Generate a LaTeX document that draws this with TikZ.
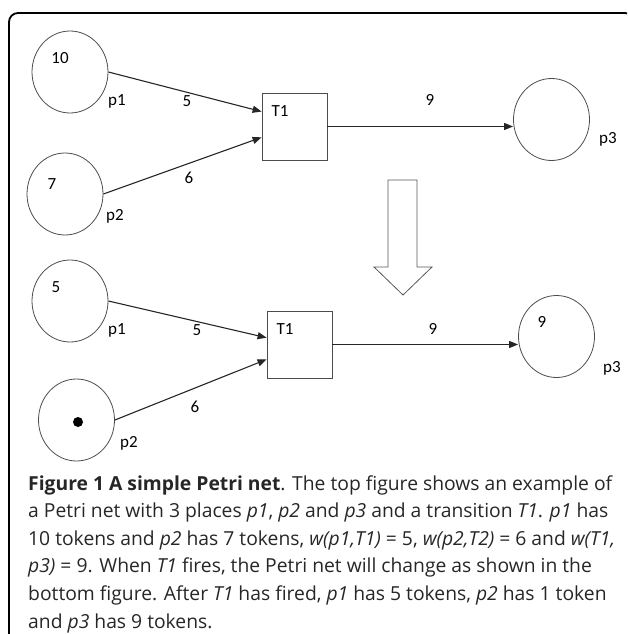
\documentclass[tikz,border=0pt]{standalone}
\usepackage{fontspec}
\setmainfont{Open Sans}
\newfontfamily\lblfont{Carlito}
\usetikzlibrary{arrows.meta,shapes.geometric,calc}
\begin{document}
\begin{tikzpicture}[x=1pt,y=-1pt,
  place/.style={ellipse,draw=black!70,line width=0.8pt,minimum width=76pt,minimum height=82pt,inner sep=0pt},
  trans/.style={rectangle,draw=black!70,line width=0.8pt,minimum width=65pt,minimum height=67pt,inner sep=0pt},
  lbl/.style={font=\lblfont\fontsize{17}{20}\selectfont,inner sep=0pt,text=black},
  arc/.style={draw=black!85,line width=1.1pt,-{Triangle[length=9pt,width=7pt]}},
  bigarrow/.style={draw=black!65,line width=0.8pt,fill=white},
  capline/.style={anchor=base west,inner sep=0pt,font=\fontsize{19.3}{23}\selectfont,text=black!85}]
\useasboundingbox (0,0) rectangle (627,634);
\begin{scope}
\clip (0,0) rectangle (627,634);
\draw[line width=1.8pt,rounded corners=9pt] (9,13) rectangle (634,660);
\end{scope}
% top net
\node[place] (p1) at (70,72) {};
\node[place] (p2) at (65,194) {};
\node[trans] (T1) at (294.5,126.5) {};
\node[place] (p3) at (551.5,119.5) {};
\coordinate (a1) at ($(T1.north west)!0.28!(T1.south west)$);
\coordinate (a2) at ($(T1.north west)!0.66!(T1.south west)$);
\draw[arc] (p1.east) -- (a1);
\draw[arc] (p2.east) -- (a2);
\draw[arc] (T1.east) -- (T1.east -| p3.west);
\node[lbl] (n10) at (60,58) {10};
\node[lbl] (n7) at (52,184) {7};
\node[lbl] (lp1) at (117,101) {p1};
\node[lbl] (lp2) at (115,216) {p2};
\node[lbl] (lp3) at (608,139) {p3};
\node[lbl] (w5) at (187,101) {5};
\node[lbl] (w6) at (189,178) {6};
\node[lbl] (w9) at (430,100) {9};
\node[lbl] (lT1) at (280,111) {T1};
% big arrow
\draw[bigarrow] (388,180) -- (417,180) -- (417,267) -- (432,267) -- (403,295) -- (374,267) -- (388,267) -- cycle;
% bottom net
\node[place] (q1) at (70,301) {};
\node[place] (q2) at (76.5,420) {};
\node[trans] (U1) at (299.5,344.5) {};
\node[place] (q3) at (556.5,336.5) {};
\coordinate (b1) at ($(U1.north west)!0.40!(U1.south west)$);
\coordinate (b2) at ($(U1.north west)!0.72!(U1.south west)$);
\draw[arc] (q1.east) -- (b1);
\draw[arc] (q2.east) -- (b2);
\draw[arc] (U1.east) -- (U1.east -| q3.west);
\fill[black] (78,422) circle (5pt);
\node[lbl] (m5) at (56,287) {5};
\node[lbl] (m9) at (542,322) {9};
\node[lbl] (lq1) at (117,330) {p1};
\node[lbl] (lq2) at (129,443) {p2};
\node[lbl] (lq3) at (612,368) {p3};
\node[lbl] (v5) at (197,330) {5};
\node[lbl] (v6) at (195,407) {6};
\node[lbl] (v9) at (433,329) {9};
\node[lbl] (lU1) at (285,329) {T1};
% caption
\node[capline] (c1) at (28,490) {\textbf{Figure 1 A simple Petri net}. The top figure shows an example of};
\node[capline] (c2) at (28,517.6) {a Petri net with 3 places \textit{p1}, \textit{p2} and \textit{p3} and a transition \textit{T1}. \textit{p1} has};
\node[capline] (c3) at (28,545.2) {10 tokens and \textit{p2} has 7 tokens, \textit{w(p1,T1)} = 5, \textit{w(p2,T2)} = 6 and \textit{w(T1,}};
\node[capline] (c4) at (28,572.8) {\textit{p3)} = 9. When \textit{T1} fires, the Petri net will change as shown in the};
\node[capline] (c5) at (28,600.4) {bottom figure. After \textit{T1} has fired, \textit{p1} has 5 tokens, \textit{p2} has 1 token};
\node[capline] (c6) at (28,628) {and \textit{p3} has 9 tokens.};
\end{tikzpicture}
\end{document}
